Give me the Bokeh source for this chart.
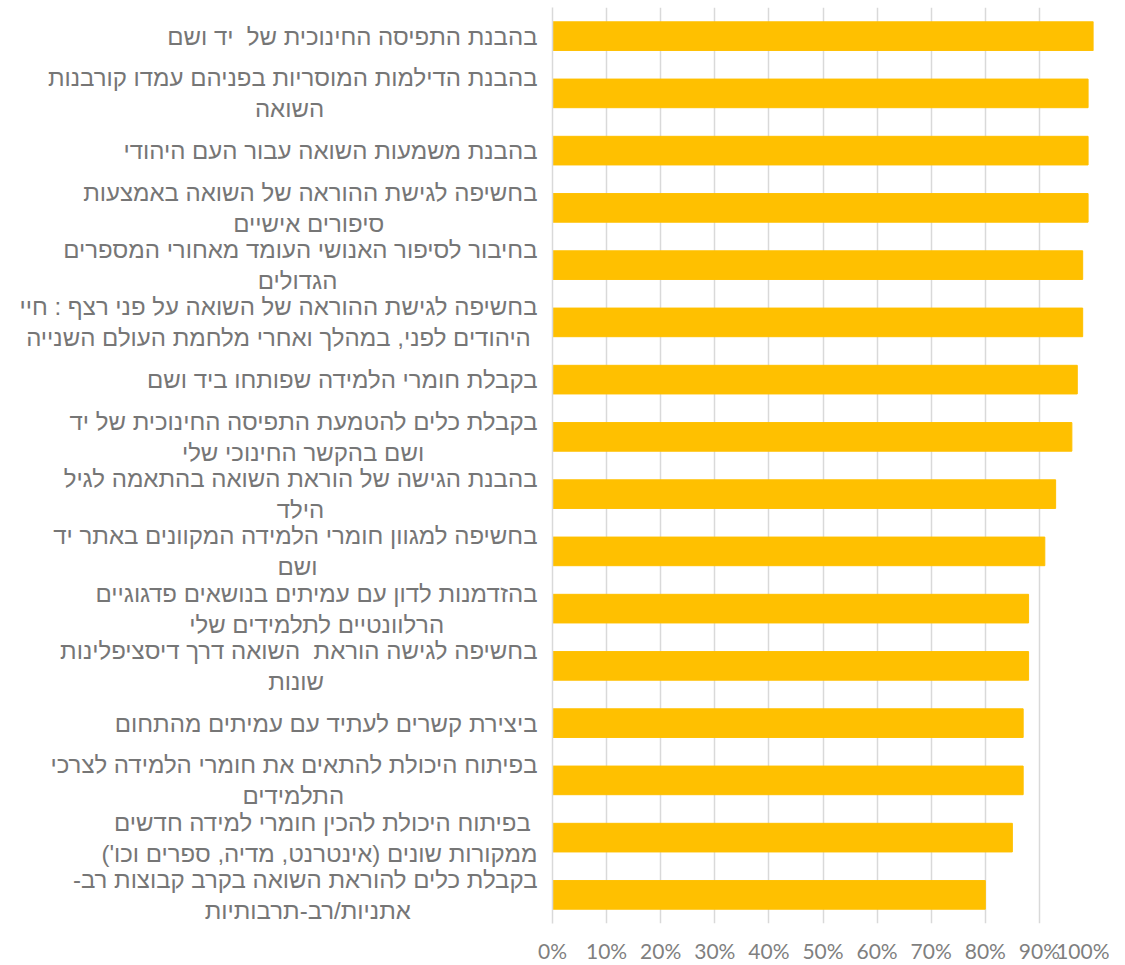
import glob
from bokeh.plotting import figure
from bokeh.models import FactorRange, Range1d, FixedTicker, NumeralTickFormatter
from bokeh.embed import file_html
from bokeh.resources import INLINE

categories = [
    "בהבנת התפיסה החינוכית של \u00a0יד ושם",
    "בהבנת הדילמות המוסריות בפניהם עמדו קורבנות\nהשואה",
    "בהבנת משמעות השואה עבור העם היהודי",
    "בחשיפה לגישת ההוראה של השואה באמצעות\nסיפורים אישיים",
    "בחיבור לסיפור האנושי העומד מאחורי המספרים\nהגדולים",
    "בחשיפה לגישת ההוראה של השואה על פני רצף : חיי\nהיהודים לפני, במהלך ואחרי מלחמת העולם השנייה",
    "בקבלת חומרי הלמידה שפותחו ביד ושם",
    "בקבלת כלים להטמעת התפיסה החינוכית של יד\nושם בהקשר החינוכי שלי",
    "בהבנת הגישה של הוראת השואה בהתאמה לגיל\nהילד",
    "בחשיפה למגוון חומרי הלמידה המקוונים באתר יד\nושם",
    "בהזדמנות לדון עם עמיתים בנושאים פדגוגיים\nהרלוונטיים לתלמידים שלי",
    "בחשיפה לגישה הוראת \u00a0השואה דרך דיסציפלינות\nשונות",
    "ביצירת קשרים לעתיד עם עמיתים מהתחום",
    "בפיתוח היכולת להתאים את חומרי הלמידה לצרכי\nהתלמידים",
    "בפיתוח היכולת להכין חומרי למידה חדשים\nממקורות שונים (אינטרנט, מדיה, ספרים וכו')",
    "בקבלת כלים להוראת השואה בקרב קבוצות רב-\nאתניות/רב-תרבותיות",
]
values = [1.00, 0.99, 0.99, 0.99, 0.98, 0.98, 0.97, 0.96,
          0.93, 0.91, 0.88, 0.88, 0.87, 0.87, 0.85, 0.80]
x_ticks = [0.0, 0.1, 0.2, 0.3, 0.4, 0.5, 0.6, 0.7, 0.8, 0.9, 1.0]

LABEL_FONT = "Liberation Sans"
LABEL_SIZE = 24
RLM = "\u200f"
NBSP = "\u00a0"

# measure line widths so that shorter lines can be centred under the longest
measure = None
try:
    from PIL import ImageFont
    paths = glob.glob("/usr/share/fonts/**/LiberationSans-Regular.ttf", recursive=True)
    if paths:
        _f = ImageFont.truetype(paths[0], LABEL_SIZE)
        measure = _f.getlength
except Exception:
    measure = None


def rtl(s):
    lines = s.split("\n")
    if measure is not None and len(lines) > 1:
        widths = [measure(l) for l in lines]
        wmax = max(widths)
        sp = measure(NBSP) or LABEL_SIZE * 0.278
        lines = [NBSP * int(round((wmax - w) / 2 / sp)) + l for l, w in zip(lines, widths)]
    return "\n".join(RLM + line + RLM for line in lines)


factors = [rtl(c) for c in categories]

p = figure(
    width=1109, height=965,
    y_range=FactorRange(factors=factors[::-1]),
    x_range=Range1d(0, 1),
    output_backend="svg", toolbar_location=None,
    min_border_left=552, min_border_right=16,
    min_border_top=7, min_border_bottom=37,
)
p.hbar(y=factors, right=values, height=0.5, color="#FFC000")

p.outline_line_color = None
p.ygrid.visible = False
p.xgrid.grid_line_color = "#d9d9d9"
p.xgrid.grid_line_width = 1.5

p.xaxis.ticker = FixedTicker(ticks=x_ticks)
p.xaxis.formatter = NumeralTickFormatter(format="0%")
p.xaxis.axis_line_color = None
p.xaxis.major_tick_line_color = None
p.xaxis.minor_tick_line_color = None
p.xaxis.major_label_standoff = 8
p.xaxis.major_label_text_font = "Lato"
p.xaxis.major_label_text_font_size = "21px"
p.xaxis.major_label_text_line_height = 1.0
p.xaxis.major_label_text_color = "#7f7f7f"

p.yaxis.axis_line_color = "#d9d9d9"
p.yaxis.axis_line_width = 1.5
p.yaxis.major_tick_line_color = None
p.yaxis.minor_tick_line_color = None
p.yaxis.major_label_standoff = 9
p.yaxis.major_label_text_font = LABEL_FONT
p.yaxis.major_label_text_font_size = f"{LABEL_SIZE}px"
p.yaxis.major_label_text_color = "#767676"
p.yaxis.major_label_text_line_height = 1.15

open("out.html", "w").write(file_html(p, INLINE))
